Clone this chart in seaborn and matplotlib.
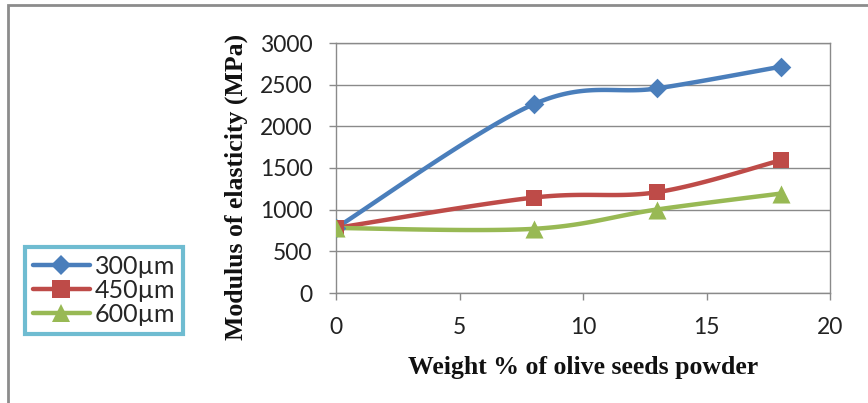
import numpy as np
import pandas as pd
import matplotlib
matplotlib.use("Agg")
import matplotlib.pyplot as plt
import seaborn as sns
from matplotlib.patches import Rectangle
from matplotlib.lines import Line2D

# ---- data ----
weight_pct = [0, 8, 13, 18]
series_names = ["300µm", "450µm", "600µm"]
mod_300 = [780, 2265, 2455, 2715]
mod_450 = [780, 1145, 1210, 1592]
mod_600 = [780, 770, 1002, 1193]
x_ticks = [0, 5, 10, 15, 20]
y_ticks = [0, 500, 1000, 1500, 2000, 2500, 3000]

colors = ["#4a7ebb", "#be4b48", "#98b954"]
markers = ["D", "s", "^"]
msizes = [10, 12, 13]

sns.set_theme(style="white")
plt.rcParams["font.family"] = ["Lato", "DejaVu Sans"]


def smooth(xs, ys, n=40):
    """Excel-like smoothing: Bezier segments with Catmull-Rom control points."""
    P = np.column_stack([xs, ys]).astype(float)
    ext = np.vstack([P[0], P, P[-1]])
    out = []
    t = np.linspace(0, 1, n)[:, None]
    for i in range(len(P) - 1):
        p0, p1, p2, p3 = ext[i], ext[i + 1], ext[i + 2], ext[i + 3]
        c1 = p1 + (p2 - p0) / 6.0
        c2 = p2 - (p3 - p1) / 6.0
        seg = ((1 - t) ** 3) * p1 + 3 * ((1 - t) ** 2) * t * c1 + 3 * (1 - t) * t ** 2 * c2 + t ** 3 * p2
        out.append(seg if i == 0 else seg[1:])
    arr = np.vstack(out)
    return arr[:, 0], arr[:, 1]


fig = plt.figure(figsize=(8.68, 4.03), dpi=100)
ax = fig.add_axes([336 / 868, 1 - 293 / 403, (830 - 336) / 868, (293 - 43) / 403])

all_vals = [mod_300, mod_450, mod_600]
for name, vals, c, m, ms in zip(series_names, all_vals, colors, markers, msizes):
    sx, sy = smooth(weight_pct, vals)
    curve = pd.DataFrame({"x": sx, "y": sy})
    sns.lineplot(data=curve, x="x", y="y", ax=ax, color=c, linewidth=3.2,
                 sort=False, estimator=None, zorder=3)
    pts = pd.DataFrame({"x": weight_pct, "y": vals})
    sns.scatterplot(data=pts, x="x", y="y", ax=ax, color=c, marker=m,
                    s=ms ** 2, edgecolor=c, linewidth=0, zorder=4)

ax.set_xlim(0, 20)
ax.set_ylim(0, 3000)
ax.set_xticks(x_ticks)
ax.set_yticks(y_ticks)
ax.set_xticklabels([str(v) for v in x_ticks], fontsize=16.5, color="#222222")
ax.set_yticklabels([str(v) for v in y_ticks], fontsize=16.5, color="#222222")
ax.grid(axis="y", color="#8a8a8a", linewidth=1.0)
ax.set_axisbelow(True)
for sp in ax.spines.values():
    sp.set_color("#8a8a8a")
    sp.set_linewidth(1.0)
ax.tick_params(axis="both", direction="out", length=5, width=1.0, color="#8a8a8a",
               bottom=True, left=True)
ax.tick_params(axis="y", pad=12)
ax.tick_params(axis="x", pad=12)

ax.set_xlabel("Weight % of olive seeds powder", fontsize=18.5, fontweight="bold",
              family="Liberation Serif", color="#111111")
ax.set_ylabel("Modulus of elasticity (MPa)", fontsize=18.5, fontweight="bold",
              family="Liberation Serif", color="#111111")
ax.xaxis.set_label_coords(0.5, (293 - 356) / 250)
ax.yaxis.set_label_coords((248 - 336) / 494, (293 - 187) / 250)

# legend
handles = [Line2D([0], [0], color=c, lw=3.2, marker=m, markersize=ms * 1.05,
                  markeredgewidth=0)
           for c, m, ms in zip(colors, markers, msizes)]
leg = fig.legend(handles, series_names, loc="upper left",
                 bbox_to_anchor=(25 / 868, 1 - 247 / 403), fontsize=18,
                 frameon=True, fancybox=False, handlelength=2.3,
                 handletextpad=0.2, labelspacing=0.05, borderpad=0.3,
                 borderaxespad=0)
leg.get_frame().set_edgecolor("#4bacc6")
leg.get_frame().set_linewidth(3)

# outer chart frame (partly cropped)
fig.patches.append(Rectangle((8 / 868, -0.1), 1.2, 1 - 5 / 403 + 0.1,
                             transform=fig.transFigure, fill=False,
                             edgecolor="#8c8c8c", linewidth=2))

fig.savefig("out.png", dpi=100)
